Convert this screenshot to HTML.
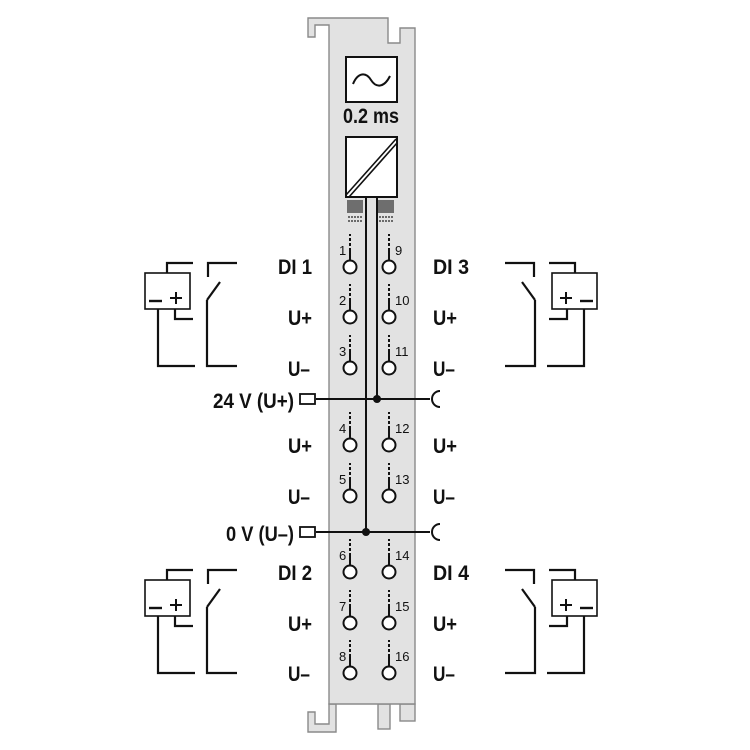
<!DOCTYPE html>
<html><head><meta charset="utf-8"><style>
html,body{margin:0;padding:0;background:#fff;}
svg{display:block;}
text{font-family:"Liberation Sans",sans-serif;fill:#111;}
.lbl{font-size:21px;font-weight:bold;}
.num{font-size:13px;}
</style></head><body>
<svg width="750" height="750" viewBox="0 0 750 750" xmlns="http://www.w3.org/2000/svg">
<defs>
<g id="sens" fill="none" stroke="#111" stroke-width="2.2">
  <rect x="145" y="273" width="45" height="36" stroke-width="1.6"/>
  <polyline points="167,273 167,263 193,263"/>
  <polyline points="175,309 175,319 193,319"/>
  <polyline points="158,309 158,366 195,366"/>
  <polyline points="237,263 208,263 208,277"/>
  <line x1="207" y1="300" x2="220" y2="282"/>
  <polyline points="207,300 207,366 237,366"/>
  <line x1="149" y1="301" x2="162" y2="301" stroke-width="2.4"/>
  <line x1="170" y1="298" x2="182" y2="298" stroke-width="2"/>
  <line x1="176" y1="292" x2="176" y2="304" stroke-width="2"/>
</g>
<g id="term">
  <line x1="0" y1="-7" x2="0" y2="-19" stroke="#111" stroke-width="2"/>
  <line x1="0" y1="-21" x2="0" y2="-33" stroke="#111" stroke-width="2" stroke-dasharray="3,2"/>
  <circle cx="0" cy="0" r="6.5" fill="#fff" stroke="#111" stroke-width="2"/>
</g>
</defs>
<!-- bottom tabs -->
<polygon points="308,712 315,712 315,724 329,724 329,704 336,704 336,732 308,732" fill="#e2e2e2" stroke="#8a8a8a" stroke-width="1.4"/>
<rect x="378" y="704" width="12" height="25" fill="#e2e2e2" stroke="#8a8a8a" stroke-width="1.4"/>
<rect x="400" y="704" width="15" height="17" fill="#e2e2e2" stroke="#8a8a8a" stroke-width="1.4"/>
<!-- module body -->
<path d="M308,18 L388,18 L388,43 L400,43 L400,28 L415,28 L415,704 L329,704 L329,25 L315,25 L315,37 L308,37 Z" fill="#e2e2e2" stroke="#8a8a8a" stroke-width="1.4"/>
<!-- filter -->
<rect x="346" y="57" width="51" height="45" fill="#fff" stroke="#111" stroke-width="2"/>
<path d="M353,84 C358,72 366,72 371,80 C376,88 384,88 390,76" fill="none" stroke="#111" stroke-width="2"/>
<text x="371" y="123" class="lbl" text-anchor="middle" font-size="19" textLength="56" lengthAdjust="spacingAndGlyphs">0.2 ms</text>
<!-- converter -->
<rect x="346" y="137" width="51" height="60" fill="#fff" stroke="#111" stroke-width="2"/>
<line x1="346" y1="195" x2="396" y2="139" stroke="#111" stroke-width="1.6"/>
<line x1="349" y1="197" x2="397" y2="143" stroke="#111" stroke-width="1.6"/>
<g stroke="#222" stroke-width="1.2">
  <path d="M348,200v13M350,200v13M352,200v13M354,200v13M356,200v13M358,200v13M360,200v13M362,200v13"/>
  <path d="M348,217h15M348,221h15" stroke-dasharray="2,1"/>
  <path d="M379,200v13M381,200v13M383,200v13M385,200v13M387,200v13M389,200v13M391,200v13M393,200v13"/>
  <path d="M379,217h15M379,221h15" stroke-dasharray="2,1"/>
</g>
<!-- bus lines -->
<line x1="366" y1="197" x2="366" y2="532" stroke="#111" stroke-width="2"/>
<line x1="377" y1="197" x2="377" y2="399" stroke="#111" stroke-width="2"/>
<line x1="316" y1="399" x2="430" y2="399" stroke="#111" stroke-width="2"/>
<line x1="316" y1="532" x2="430" y2="532" stroke="#111" stroke-width="2"/>
<circle cx="377" cy="399" r="4" fill="#111"/>
<circle cx="366" cy="532" r="4" fill="#111"/>
<path d="M440,391 A8,8 0 0 0 440,407" fill="none" stroke="#111" stroke-width="2"/>
<path d="M440,524 A8,8 0 0 0 440,540" fill="none" stroke="#111" stroke-width="2"/>
<rect x="300" y="394" width="15" height="10" fill="#fff" stroke="#111" stroke-width="1.8"/>
<rect x="300" y="527" width="15" height="10" fill="#fff" stroke="#111" stroke-width="1.8"/>
<text x="213" y="408" class="lbl" textLength="81" lengthAdjust="spacingAndGlyphs">24 V (U+)</text>
<text x="226" y="541" class="lbl" textLength="68" lengthAdjust="spacingAndGlyphs">0 V (U–)</text>
<!-- terminals -->
<g>
<use href="#term" x="350" y="267"/><use href="#term" x="389" y="267"/>
<use href="#term" x="350" y="317"/><use href="#term" x="389" y="317"/>
<use href="#term" x="350" y="368"/><use href="#term" x="389" y="368"/>
<use href="#term" x="350" y="445"/><use href="#term" x="389" y="445"/>
<use href="#term" x="350" y="496"/><use href="#term" x="389" y="496"/>
<use href="#term" x="350" y="572"/><use href="#term" x="389" y="572"/>
<use href="#term" x="350" y="623"/><use href="#term" x="389" y="623"/>
<use href="#term" x="350" y="673"/><use href="#term" x="389" y="673"/>
</g>
<g>
<text x="339" y="255" class="num">1</text><text x="395" y="255" class="num">9</text>
<text x="339" y="305" class="num">2</text><text x="395" y="305" class="num">10</text>
<text x="339" y="356" class="num">3</text><text x="395" y="356" class="num">11</text>
<text x="339" y="433" class="num">4</text><text x="395" y="433" class="num">12</text>
<text x="339" y="484" class="num">5</text><text x="395" y="484" class="num">13</text>
<text x="339" y="560" class="num">6</text><text x="395" y="560" class="num">14</text>
<text x="339" y="611" class="num">7</text><text x="395" y="611" class="num">15</text>
<text x="339" y="661" class="num">8</text><text x="395" y="661" class="num">16</text>
</g>
<!-- labels left -->
<text x="278" y="274" class="lbl" textLength="34" lengthAdjust="spacingAndGlyphs">DI 1</text>
<text x="288" y="325" class="lbl" textLength="24" lengthAdjust="spacingAndGlyphs">U+</text>
<text x="288" y="376" class="lbl" textLength="22" lengthAdjust="spacingAndGlyphs">U–</text>
<text x="288" y="453" class="lbl" textLength="24" lengthAdjust="spacingAndGlyphs">U+</text>
<text x="288" y="504" class="lbl" textLength="22" lengthAdjust="spacingAndGlyphs">U–</text>
<text x="278" y="580" class="lbl" textLength="34" lengthAdjust="spacingAndGlyphs">DI 2</text>
<text x="288" y="631" class="lbl" textLength="24" lengthAdjust="spacingAndGlyphs">U+</text>
<text x="288" y="681" class="lbl" textLength="22" lengthAdjust="spacingAndGlyphs">U–</text>
<!-- labels right -->
<text x="433" y="274" class="lbl" textLength="36" lengthAdjust="spacingAndGlyphs">DI 3</text>
<text x="433" y="325" class="lbl" textLength="24" lengthAdjust="spacingAndGlyphs">U+</text>
<text x="433" y="376" class="lbl" textLength="22" lengthAdjust="spacingAndGlyphs">U–</text>
<text x="433" y="453" class="lbl" textLength="24" lengthAdjust="spacingAndGlyphs">U+</text>
<text x="433" y="504" class="lbl" textLength="22" lengthAdjust="spacingAndGlyphs">U–</text>
<text x="433" y="580" class="lbl" textLength="36" lengthAdjust="spacingAndGlyphs">DI 4</text>
<text x="433" y="631" class="lbl" textLength="24" lengthAdjust="spacingAndGlyphs">U+</text>
<text x="433" y="681" class="lbl" textLength="22" lengthAdjust="spacingAndGlyphs">U–</text>
<!-- sensors -->
<use href="#sens"/>
<use href="#sens" transform="translate(0,307)"/>
<use href="#sens" transform="translate(742,0) scale(-1,1)"/>
<use href="#sens" transform="translate(742,307) scale(-1,1)"/>
</svg>
</body></html>
